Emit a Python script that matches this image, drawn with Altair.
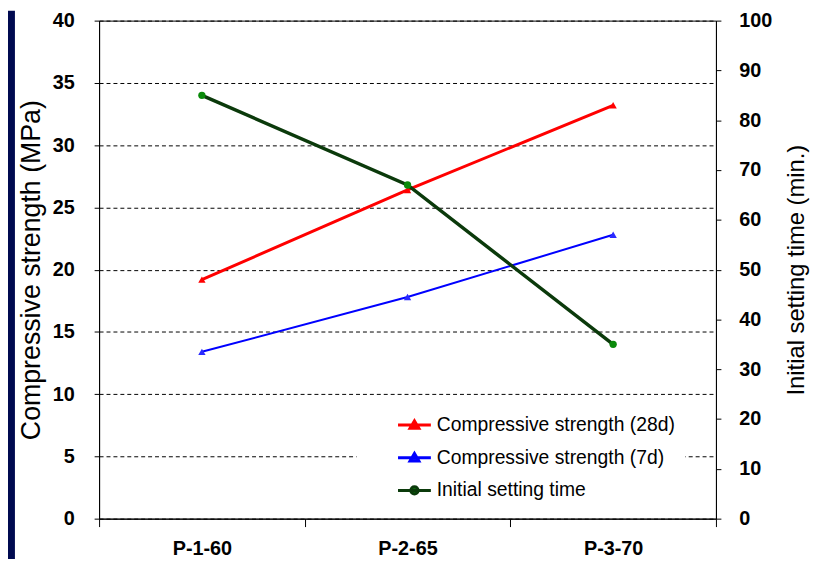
import altair as alt
import pandas as pd

categories = ["P-1-60", "P-2-65", "P-3-70"]
cs_28d = [19.2, 26.4, 33.2]
cs_7d = [13.4, 17.8, 22.8]
setting_time = [85, 67, 35]
series_names = ["Compressive strength (28d)", "Compressive strength (7d)", "Initial setting time"]
line_colors = ["#ff0000", "#0000ff", "#0b3a0b"]
marker_colors = ["#ff0000", "#2a2aff", "#0a8a0a"]
left_ticks = list(range(0, 41, 5))
right_ticks = list(range(0, 101, 10))

FONT = "Liberation Sans"

strength = pd.DataFrame({
    "cat": categories * 2,
    "series": [series_names[0]] * 3 + [series_names[1]] * 3,
    "value": cs_28d + cs_7d,
})
setting = pd.DataFrame({
    "cat": categories,
    "series": [series_names[2]] * 3,
    "value": setting_time,
})
legend_rows = pd.DataFrame({"cat": categories, "series": series_names, "value": [0, 0, 0]})

x_enc = alt.X(
    "cat:N", sort=categories,
    scale=alt.Scale(type="band", paddingInner=0, paddingOuter=0),
    axis=alt.Axis(title=None, labelAngle=0, labelFont=FONT, labelFontSize=20,
                  labelFontWeight="bold", labelColor="black", tickBand="extent",
                  tickSize=8, tickColor="black", domainColor="black", labelPadding=12,
                  grid=False),
)

tri = "M-1,0H1M-0.27,0.2L0,-0.26L0.27,0.2Z"
circ = "M-1,0H1M0.22,0A0.22,0.22,0,1,1,-0.22,0A0.22,0.22,0,1,1,0.22,0Z"

color_enc = alt.Color("series:N", scale=alt.Scale(domain=series_names, range=line_colors),
                      legend=alt.Legend(title=None))
fill_enc = alt.Fill("series:N", scale=alt.Scale(domain=series_names, range=marker_colors),
                    legend=alt.Legend(title=None))
shape_enc = alt.Shape("series:N", scale=alt.Scale(domain=series_names, range=[tri, tri, circ]),
                      legend=alt.Legend(title=None, labelExpr="datum.label + '\u2003\u2003'"))

y_left = alt.Y(
    "value:Q", scale=alt.Scale(domain=[0, 40], nice=False),
    axis=alt.Axis(values=left_ticks, title="Compressive strength (MPa)", titleFont=FONT,
                  titleFontSize=27, titleFontWeight="normal", titleColor="black",
                  titlePadding=7, labelFont=FONT, labelFontSize=20, labelFontWeight="bold",
                  labelColor="black", tickSize=5, tickColor="black", labelPadding=20,
                  domainColor="black", grid=True, gridDash=[4, 3], gridColor="black",
                  gridWidth=1, gridOpacity=1),
)
y_right = alt.Y(
    "value:Q", scale=alt.Scale(domain=[0, 100], nice=False),
    axis=alt.Axis(orient="right", values=right_ticks, title="Initial setting time (min.)",
                  titleFont=FONT, titleFontSize=24, titleFontWeight="normal",
                  titleColor="black", titleAngle=270, titleBaseline="top", titlePadding=13,
                  labelFont=FONT, labelFontSize=20, labelFontWeight="bold", labelColor="black",
                  tickSize=5, tickColor="black", labelPadding=18, domainColor="black",
                  grid=False),
)

s_base = alt.Chart(strength)
s_lines = s_base.mark_line().encode(
    x=x_enc, y=y_left, color=color_enc,
    strokeWidth=alt.condition(alt.datum.series == series_names[1], alt.value(2), alt.value(3)),
)
s_points = s_base.mark_point(shape="triangle-up", size=55, filled=True, opacity=1).encode(
    x=x_enc, y=y_left, fill=fill_enc,
)
legend_layer = alt.Chart(legend_rows).transform_filter("false").mark_point(
    size=1100, filled=True, opacity=1, strokeWidth=3
).encode(x=x_enc, y=y_left, shape=shape_enc, color=color_enc, fill=fill_enc)
left = alt.layer(s_lines, s_points, legend_layer)

t_base = alt.Chart(setting)
t_line = t_base.mark_line(strokeWidth=3.5).encode(x=x_enc, y=y_right, color=color_enc)
t_points = t_base.mark_point(shape="circle", size=55, filled=True, opacity=1).encode(
    x=x_enc, y=y_right, fill=fill_enc,
)
right = alt.layer(t_line, t_points)

strip = alt.Chart(pd.DataFrame({"a": [0]})).mark_rect(color="#000a50").encode(
    x=alt.value(-92), x2=alt.value(-85), y=alt.value(-10), y2=alt.value(545)
)

chart = alt.layer(left, right, strip).resolve_scale(y="independent").properties(
    width=623, height=503,
    autosize=alt.AutoSizeParams(type="none"),
    padding={"left": 92, "top": 10, "right": 96, "bottom": 38},
    background="white",
).configure_view(stroke="black", strokeWidth=1).configure_legend(
    orient="none", legendX=260, legendY=380, fillColor="white", padding=10,
    symbolOffset=30, symbolSize=1100, rowPadding=5, labelOffset=4, labelFont=FONT,
    labelFontSize=19.5, labelColor="black", labelLimit=400, symbolStrokeWidth=3,
    symbolOpacity=1,
)

chart.save("out.html", embed_options={"renderer": "svg", "actions": False})
